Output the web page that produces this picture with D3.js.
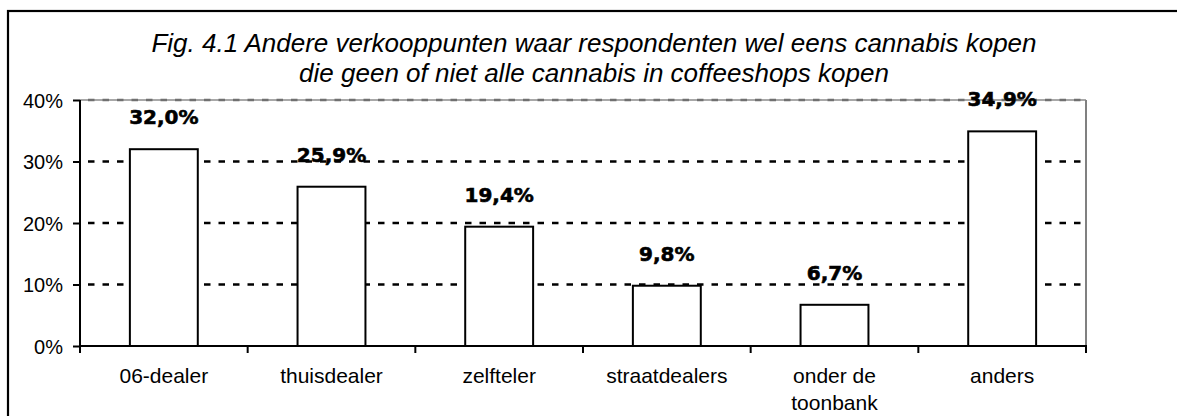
<!DOCTYPE html>
<html>
<head>
<meta charset="utf-8">
<script src="https://cdn.jsdelivr.net/npm/d3@7"></script>
<style>
  html, body { margin: 0; padding: 0; background: #fff; }
  svg { display: block; }
</style>
</head>
<body>
<script>
const categories = ["06-dealer", "thuisdealer", "zelfteler", "straatdealers", "onder de\ntoonbank", "anders"];
const values = [32.0, 25.9, 19.4, 9.8, 6.7, 34.9];
const valueLabels = ["32,0%", "25,9%", "19,4%", "9,8%", "6,7%", "34,9%"];
const yTicks = [0, 10, 20, 30, 40];
const titleLines = [
  "Fig. 4.1 Andere verkooppunten waar respondenten wel eens cannabis kopen",
  "die geen of niet alle cannabis in coffeeshops kopen"
];

const W = 1177, H = 416;
const plot = { left: 80, right: 1086, top: 100, bottom: 346 };
const sans = "'Liberation Sans', Arial, sans-serif";

const svg = d3.select("body").append("svg").attr("width", W).attr("height", H);
svg.append("rect").attr("width", W).attr("height", H).attr("fill", "#fff");

// outer frame (extends past right and bottom edges)
svg.append("rect")
  .attr("x", 8).attr("y", 11).attr("width", 1300).attr("height", 600)
  .attr("fill", "none").attr("stroke", "#000").attr("stroke-width", 2.2);

// title
svg.append("g").selectAll("text").data(titleLines).join("text")
  .attr("x", 594).attr("y", (d, i) => 52 + i * 30)
  .attr("text-anchor", "middle")
  .attr("font-family", sans).attr("font-style", "italic").attr("font-size", 26)
  .attr("fill", "#000")
  .text(d => d);

const x = d3.scaleBand().domain(categories).range([plot.left, plot.right])
  .paddingInner(0.595).paddingOuter(0.2975);
const xCat = d3.scaleBand().domain(categories).range([plot.left, plot.right]).padding(0);
const y = d3.scaleLinear().domain([0, 40]).range([plot.bottom, plot.top]);

// plot area border (top & right) in gray
svg.append("line").attr("x1", plot.left).attr("x2", plot.right)
  .attr("y1", y(40)).attr("y2", y(40)).attr("stroke", "#a8a8a8").attr("stroke-width", 2);
svg.append("line").attr("x1", plot.right).attr("x2", plot.right)
  .attr("y1", y(40)).attr("y2", y(0)).attr("stroke", "#808080").attr("stroke-width", 2);

// gridlines
svg.append("g").selectAll("line").data(yTicks.filter(t => t > 0)).join("line")
  .attr("x1", plot.left).attr("x2", plot.right - 1)
  .attr("y1", d => y(d)).attr("y2", d => y(d))
  .attr("stroke", d => d === 40 ? "#707070" : "#000")
  .attr("stroke-width", 2.6)
  .attr("stroke-dasharray", "6.5,8")
  .attr("stroke-dashoffset", -8);

// bars
svg.append("g").selectAll("rect").data(values).join("rect")
  .attr("x", (d, i) => x(categories[i]))
  .attr("y", d => y(d))
  .attr("width", x.bandwidth())
  .attr("height", d => y(0) - y(d))
  .attr("fill", "#fff").attr("stroke", "#000").attr("stroke-width", 2);

// value labels
svg.append("g").selectAll("text").data(values).join("text")
  .attr("x", (d, i) => x(categories[i]) + x.bandwidth() / 2)
  .attr("y", d => y(d) - 25)
  .attr("text-anchor", "middle")
  .attr("font-family", "'DejaVu Sans', sans-serif").attr("font-weight", "bold").attr("font-size", 20)
  .attr("fill", "#000").attr("stroke", "#000").attr("stroke-width", 0.6)
  .text((d, i) => valueLabels[i]);

// y axis
const yAxis = d3.axisLeft(y).tickValues(yTicks).tickSize(7).tickPadding(10)
  .tickFormat(d => d + "%");
const gy = svg.append("g").attr("transform", `translate(${plot.left},0)`).call(yAxis);
gy.select(".domain").attr("stroke", "#000").attr("stroke-width", 2).attr("d", `M0,${y(0)}V${y(40)}`);
gy.selectAll(".tick line").attr("stroke", "#000").attr("stroke-width", 2);
gy.selectAll(".tick text").attr("font-family", sans).attr("font-size", 20).attr("fill", "#000")
  .attr("dy", "0.36em");

// x axis
const gx = svg.append("g").attr("transform", `translate(0,${plot.bottom})`);
gx.append("line").attr("x1", plot.left - 1).attr("x2", plot.right + 1)
  .attr("stroke", "#000").attr("stroke-width", 2);
const boundaries = categories.map(c => xCat(c)).concat([plot.right]);
gx.selectAll("line.tk").data(boundaries).join("line").attr("class", "tk")
  .attr("x1", d => d).attr("x2", d => d).attr("y1", 0).attr("y2", 7)
  .attr("stroke", "#000").attr("stroke-width", 2);
const labels = gx.selectAll("text").data(categories).join("text")
  .attr("x", d => xCat(d) + xCat.bandwidth() / 2)
  .attr("y", 37)
  .attr("text-anchor", "middle")
  .attr("font-family", sans).attr("font-size", 21).attr("fill", "#000");
labels.each(function (d) {
  const t = d3.select(this);
  const cx = xCat(d) + xCat.bandwidth() / 2;
  d.split("\n").forEach((line, i) => {
    t.append("tspan").attr("x", cx).attr("dy", i === 0 ? 0 : 27).text(line);
  });
});
</script>
</body>
</html>
